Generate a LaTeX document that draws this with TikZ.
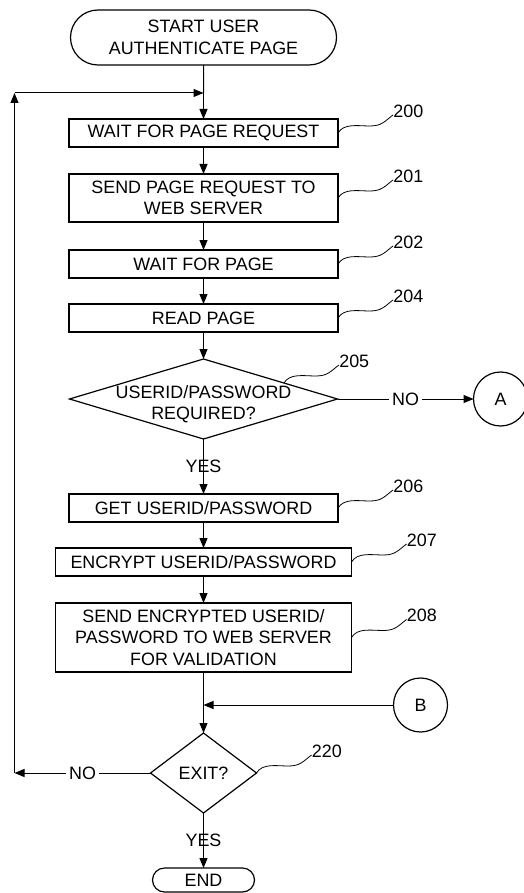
\documentclass[tikz,border=0pt]{standalone}
\usepackage{fontspec}
\setmainfont{Liberation Sans}
\usetikzlibrary{positioning,arrows.meta,shapes.geometric,shapes.misc,calc}

% reference numeral with a wavy leader line
\newcommand{\refmark}[3]{%
  \draw[line width=0.8pt] (#1) .. controls +(6,10) and +(-12,0) .. ++(32,7)
    .. controls +(12,0) and +(-8,-6) .. ++(23,11)
    node[anchor=south west, inner sep=0pt, yshift=-3pt] (#2) {#3};
}

\begin{document}
\begin{tikzpicture}[x=1pt, y=1pt, node distance=27pt, line width=1pt,
  >={Triangle[length=10pt,width=8pt]},
  every node/.style={font=\fontsize{17.9pt}{21.5pt}\selectfont},
  procbox/.style={draw, line width=1.2pt, rectangle, minimum width=269pt, minimum height=28pt, inner sep=2pt, outer sep=0pt, align=center},
  widebox/.style={procbox, minimum width=296pt},
  decision/.style={draw, line width=1.2pt, diamond, inner sep=0pt, outer sep=0pt},
  terminal/.style={draw, line width=1.2pt, rounded rectangle, inner sep=2pt, outer sep=0pt, align=center},
  connector/.style={draw, line width=1.2pt, circle, minimum size=54pt, inner sep=0pt, outer sep=0pt}]
\useasboundingbox (0,0) rectangle (524,-893);
% Components
\node[terminal, minimum width=270pt, minimum height=55pt] (start) at (203.5,-37.5) {START USER\\AUTHENTICATE PAGE};
\coordinate[below=28pt of start] (jt);
\node[procbox, below=54pt of start] (b200) {WAIT FOR PAGE REQUEST};
\node[procbox, minimum height=48pt, below=of b200] (b201) {SEND PAGE REQUEST TO\\WEB SERVER};
\node[procbox, below=28pt of b201] (b202) {WAIT FOR PAGE};
\node[procbox, below=26pt of b202] (b204) {READ PAGE};
\node[decision, minimum width=268pt, minimum height=80pt, below=of b204,
  label={[name=t205, align=center, yshift=-5pt]center:USERID/PASSWORD\\REQUIRED?}] (d205) {};
\node[connector, right=136pt of d205] (cA) {A};
\node[procbox, below=55pt of d205] (b206) {GET USERID/PASSWORD};
\node[widebox, below=26pt of b206] (b207) {ENCRYPT USERID/PASSWORD};
\node[widebox, minimum height=69pt, below=of b207] (b208) {SEND ENCRYPTED USERID/\\PASSWORD TO WEB SERVER\\FOR VALIDATION};
\coordinate[below=33pt of b208] (jb);
\node[connector, right=190pt of jb] (cB) {B};
\node[decision, minimum width=106pt, minimum height=80pt, below=61pt of b208] (d220) {EXIT?};
\node[terminal, minimum width=106pt, minimum height=24pt, below=55pt of d220] (end) {END};
\coordinate (lt) at ($(jt)+(-189,0)$);
\coordinate (lb) at (lt |- d220);
% Connections
\draw (start) -- (jt);
\draw[->] (jt) -- (b200);
\draw[->] (b200) -- (b201);
\draw[->] (b201) -- (b202);
\draw[->] (b202) -- (b204);
\draw[->] (b204) -- (d205);
\draw[->] (d205) -- (b206) node[midway] (y205) {YES};
\draw[->] (d205.east) -- (cA) node[midway, fill=white, inner sep=3pt] (n205) {NO};
\draw[->] (b206) -- (b207);
\draw[->] (b207) -- (b208);
\draw (b208) -- (jb);
\draw[->] (cB) -- (jb);
\draw[->] (jb) -- (d220);
\draw[->] (d220) -- (end) node[midway] (y220) {YES};
\draw[->] (d220.west) -- (lb) node[midway, fill=white, inner sep=3pt] (n220) {NO};
\draw[->] (lb) -- (lt);
\draw[->] (lt) -- (jt);
% Reference numerals
\refmark{b200.east}{r200}{200}
\refmark{b201.east}{r201}{201}
\refmark{b202.east}{r202}{202}
\refmark{b204.east}{r204}{204}
\refmark{$(d205.north)!0.6!(d205.east)$}{r205}{205}
\refmark{b206.east}{r206}{206}
\refmark{b207.east}{r207}{207}
\refmark{b208.east}{r208}{208}
\refmark{d220.east}{r220}{220}
\end{tikzpicture}
\end{document}
